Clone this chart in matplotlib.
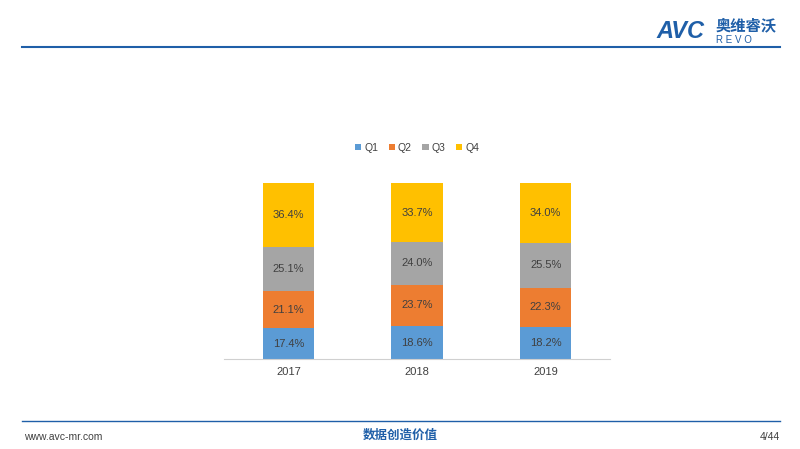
import matplotlib.pyplot as plt
import numpy as np

plt.rcParams['font.family'] = ['Liberation Sans', 'Noto Sans CJK SC', 'DejaVu Sans']

years = ['2017', '2018', '2019']
series = ['Q1', 'Q2', 'Q3', 'Q4']
q1 = [17.4, 18.6, 18.2]
q2 = [21.1, 23.7, 22.3]
q3 = [25.1, 24.0, 25.5]
q4 = [36.4, 33.7, 34.0]
colors = ['#5B9BD5', '#ED7D31', '#A5A5A5', '#FFC000']

fig = plt.figure(figsize=(8, 4.49), dpi=100)
ax = fig.add_axes([0.28, 0.2004, 0.4825, 0.392])

x = np.arange(len(years))
bottom = np.zeros(len(years))
for name, vals, c in zip(series, [q1, q2, q3, q4], colors):
    ax.bar(x, vals, 0.4, bottom=bottom, color=c, label=name)
    for xi, b, v in zip(x, bottom, vals):
        ax.text(xi, b + v / 2, f'{v:.1f}%', ha='center', va='center', fontsize=8, color='#404040')
    bottom += np.array(vals)

ax.set_xlim(-0.5, 2.5)
ax.set_ylim(0, 100)
ax.set_xticks(x)
ax.set_xticklabels(years, fontsize=8, color='#404040')
ax.tick_params(axis='x', length=0, pad=6)
ax.set_yticks([])
for s in ['top', 'right', 'left']:
    ax.spines[s].set_visible(False)
ax.spines['bottom'].set_color('#d0d0d0')

ax.legend(loc='lower center', bbox_to_anchor=(0.5, 1.12), ncol=4, frameon=False,
          fontsize=7.5, handlelength=0.6, handleheight=0.6, columnspacing=1.0,
          handletextpad=0.3, labelcolor='#404040')

# header / footer decorations
fig.add_artist(plt.Line2D([0.028, 0.975], [1 - 47 / 449] * 2, color='#1F5FA8', lw=1.5))
fig.add_artist(plt.Line2D([0.028, 0.975], [1 - 421 / 449] * 2, color='#1F5FA8', lw=1.0))
fig.text(0.82, 1 - 32 / 449, 'AVC', fontsize=17, fontweight='bold', color='#1F5FA8', va='center', style='italic')
fig.text(0.895, 1 - 26 / 449, '奥维睿沃', fontsize=11, fontweight='bold', color='#1F5FA8', va='center')
fig.text(0.895, 1 - 40 / 449, 'R E V O', fontsize=7, color='#1F5FA8', va='center')
fig.text(0.03, 1 - 437 / 449, 'www.avc-mr.com', fontsize=7.5, color='#404040', va='center')
fig.text(0.5, 1 - 436 / 449, '数据创造价值', fontsize=9, fontweight='bold', color='#1F5FA8', va='center', ha='center')
fig.text(0.975, 1 - 437 / 449, '4/44', fontsize=7.5, color='#404040', va='center', ha='right')

fig.savefig('out.png', dpi=100)
